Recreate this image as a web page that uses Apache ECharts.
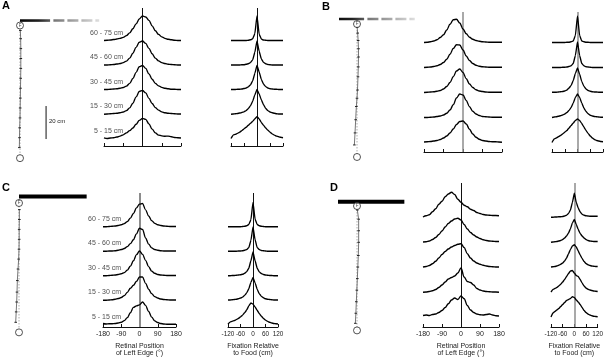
<!DOCTYPE html>
<html>
<head>
<meta charset="utf-8">
<script src="https://cdn.jsdelivr.net/npm/echarts@6/dist/echarts.min.js"></script>
<style>
html, body { margin: 0; padding: 0; background: #fff; }
#chart { width: 606px; height: 359px; }
</style>
</head>
<body>
<div id="chart"></div>
<script>
// Sample positions of the distributions
const RETINAL_X = [-180, -165, -150, -135, -120, -105, -90, -75, -60, -45, -30, -15, 0, 15, 30, 45, 60, 75, 90, 105, 120, 135, 150, 165, 180];
const FIXATION_X = [-120, -110, -100, -90, -80, -70, -60, -50, -40, -30, -20, -10, 0, 10, 20, 30, 40, 50, 60, 70, 80, 90, 100, 110, 120];

// Distance bins, bottom row first
const DISTANCE_BINS = ['5 - 15 cm', '15 - 30 cm', '30 - 45 cm', '45 - 60 cm', '60 - 75 cm'];

// Normalised frequency (1 = row spacing), rows bottom -> top
const A_RETINAL = [
    [0.05, 0.02, 0.04, 0.05, 0.08, 0.12, 0.17, 0.25, 0.34, 0.45, 0.6, 0.76, 0.84, 0.8, 0.62, 0.4, 0.25, 0.16, 0.13, 0.11, 0.12, 0.09, 0.06, 0.05, 0.04],
    [0.01, 0.02, 0.03, 0.04, 0.05, 0.07, 0.1, 0.16, 0.27, 0.46, 0.72, 0.94, 0.98, 0.88, 0.66, 0.45, 0.28, 0.18, 0.11, 0.07, 0.05, 0.04, 0.03, 0.02, 0.02],
    [0.02, 0.02, 0.03, 0.04, 0.05, 0.07, 0.1, 0.16, 0.27, 0.47, 0.72, 0.95, 1.0, 0.88, 0.66, 0.44, 0.27, 0.17, 0.11, 0.07, 0.05, 0.03, 0.03, 0.02, 0.02],
    [0.02, 0.02, 0.03, 0.04, 0.06, 0.08, 0.12, 0.18, 0.3, 0.5, 0.74, 0.95, 1.0, 0.9, 0.7, 0.48, 0.3, 0.19, 0.12, 0.08, 0.05, 0.04, 0.03, 0.02, 0.02],
    [0.02, 0.03, 0.04, 0.06, 0.08, 0.11, 0.15, 0.22, 0.33, 0.5, 0.7, 0.9, 1.02, 0.98, 0.84, 0.62, 0.42, 0.27, 0.17, 0.11, 0.07, 0.05, 0.03, 0.02, 0.02]
];
const A_FIXATION = [
    [0.02, 0.16, 0.19, 0.23, 0.28, 0.34, 0.41, 0.48, 0.56, 0.64, 0.72, 0.82, 0.91, 0.82, 0.68, 0.56, 0.45, 0.36, 0.28, 0.21, 0.16, 0.12, 0.09, 0.07, 0.05],
    [0.01, 0.02, 0.03, 0.04, 0.06, 0.08, 0.11, 0.16, 0.24, 0.36, 0.54, 0.8, 1.02, 0.84, 0.6, 0.4, 0.25, 0.16, 0.1, 0.07, 0.05, 0.03, 0.02, 0.02, 0.02],
    [0.02, 0.02, 0.02, 0.03, 0.03, 0.04, 0.06, 0.08, 0.13, 0.21, 0.37, 0.68, 1.0, 0.74, 0.43, 0.24, 0.14, 0.08, 0.05, 0.04, 0.03, 0.03, 0.02, 0.02, 0.02],
    [0.02, 0.02, 0.02, 0.02, 0.02, 0.03, 0.03, 0.05, 0.07, 0.12, 0.23, 0.54, 1.0, 0.58, 0.27, 0.13, 0.07, 0.04, 0.03, 0.02, 0.02, 0.02, 0.02, 0.02, 0.02],
    [0.02, 0.02, 0.02, 0.02, 0.02, 0.02, 0.02, 0.02, 0.03, 0.05, 0.09, 0.3, 1.02, 0.28, 0.08, 0.04, 0.03, 0.02, 0.02, 0.02, 0.02, 0.02, 0.02, 0.02, 0.02]
];
const B_RETINAL = [
    [0.04, 0.05, 0.06, 0.08, 0.1, 0.14, 0.2, 0.28, 0.4, 0.56, 0.74, 0.86, 0.88, 0.76, 0.55, 0.36, 0.23, 0.15, 0.1, 0.08, 0.06, 0.05, 0.05, 0.04, 0.03],
    [0.02, 0.02, 0.03, 0.04, 0.06, 0.08, 0.12, 0.19, 0.32, 0.53, 0.8, 0.96, 0.92, 0.7, 0.45, 0.27, 0.16, 0.1, 0.06, 0.05, 0.04, 0.03, 0.03, 0.03, 0.03],
    [0.02, 0.03, 0.04, 0.05, 0.07, 0.1, 0.16, 0.26, 0.42, 0.65, 0.88, 0.96, 0.82, 0.57, 0.36, 0.22, 0.13, 0.08, 0.06, 0.04, 0.03, 0.03, 0.03, 0.03, 0.03],
    [0.02, 0.03, 0.04, 0.06, 0.09, 0.14, 0.22, 0.35, 0.55, 0.78, 0.93, 0.92, 0.72, 0.48, 0.3, 0.18, 0.11, 0.07, 0.05, 0.04, 0.03, 0.03, 0.03, 0.03, 0.03],
    [0.02, 0.03, 0.05, 0.08, 0.13, 0.22, 0.33, 0.52, 0.75, 0.93, 0.95, 0.8, 0.56, 0.37, 0.23, 0.15, 0.1, 0.07, 0.05, 0.04, 0.03, 0.03, 0.03, 0.03, 0.03]
];
const B_FIXATION = [
    [0.02, 0.16, 0.2, 0.25, 0.3, 0.36, 0.43, 0.5, 0.6, 0.7, 0.8, 0.9, 0.96, 0.9, 0.78, 0.64, 0.5, 0.38, 0.28, 0.2, 0.14, 0.1, 0.08, 0.06, 0.05],
    [0.02, 0.04, 0.05, 0.07, 0.09, 0.12, 0.16, 0.22, 0.3, 0.42, 0.6, 0.82, 0.96, 0.82, 0.6, 0.4, 0.26, 0.17, 0.11, 0.08, 0.06, 0.05, 0.04, 0.03, 0.03],
    [0.03, 0.03, 0.03, 0.04, 0.05, 0.06, 0.08, 0.12, 0.2, 0.3, 0.5, 0.78, 1.0, 0.75, 0.46, 0.27, 0.16, 0.1, 0.07, 0.05, 0.04, 0.04, 0.03, 0.03, 0.03],
    [0.02, 0.02, 0.02, 0.02, 0.02, 0.03, 0.03, 0.04, 0.06, 0.09, 0.18, 0.5, 1.04, 0.5, 0.18, 0.09, 0.05, 0.04, 0.03, 0.02, 0.02, 0.02, 0.02, 0.02, 0.02],
    [0.02, 0.02, 0.02, 0.02, 0.02, 0.02, 0.02, 0.03, 0.03, 0.05, 0.08, 0.3, 1.08, 0.3, 0.08, 0.05, 0.03, 0.03, 0.02, 0.02, 0.02, 0.02, 0.02, 0.02, 0.02]
];
const C_RETINAL = [
    [0.06, 0.04, 0.05, 0.05, 0.06, 0.08, 0.11, 0.18, 0.3, 0.5, 0.72, 0.78, 0.82, 0.94, 0.8, 0.55, 0.32, 0.17, 0.1, 0.06, 0.04, 0.03, 0.03, 0.03, 0.03],
    [0.01, 0.01, 0.02, 0.03, 0.05, 0.08, 0.12, 0.2, 0.33, 0.5, 0.62, 0.78, 0.96, 0.96, 0.7, 0.46, 0.28, 0.16, 0.1, 0.06, 0.04, 0.03, 0.02, 0.02, 0.02],
    [0.01, 0.01, 0.02, 0.03, 0.04, 0.06, 0.09, 0.14, 0.24, 0.4, 0.62, 0.87, 1.02, 0.88, 0.64, 0.38, 0.2, 0.11, 0.06, 0.04, 0.03, 0.02, 0.02, 0.02, 0.02],
    [0.01, 0.01, 0.02, 0.02, 0.03, 0.05, 0.08, 0.12, 0.2, 0.32, 0.48, 0.72, 0.95, 0.9, 0.55, 0.3, 0.15, 0.08, 0.05, 0.03, 0.02, 0.02, 0.02, 0.02, 0.02],
    [0.01, 0.01, 0.02, 0.03, 0.04, 0.06, 0.09, 0.14, 0.22, 0.36, 0.55, 0.78, 0.93, 0.96, 0.7, 0.45, 0.26, 0.15, 0.09, 0.06, 0.04, 0.03, 0.02, 0.02, 0.02]
];
const C_FIXATION = [
    [0.03, 0.12, 0.15, 0.18, 0.22, 0.27, 0.33, 0.4, 0.5, 0.62, 0.78, 0.9, 0.85, 0.74, 0.6, 0.47, 0.36, 0.27, 0.2, 0.15, 0.11, 0.08, 0.06, 0.05, 0.04],
    [0.02, 0.02, 0.03, 0.04, 0.05, 0.07, 0.1, 0.14, 0.21, 0.31, 0.48, 0.74, 0.94, 0.72, 0.46, 0.28, 0.17, 0.11, 0.07, 0.05, 0.04, 0.03, 0.02, 0.02, 0.02],
    [0.01, 0.01, 0.02, 0.02, 0.03, 0.04, 0.05, 0.07, 0.11, 0.18, 0.32, 0.62, 0.98, 0.62, 0.32, 0.17, 0.1, 0.06, 0.04, 0.03, 0.02, 0.02, 0.01, 0.01, 0.01],
    [0.01, 0.01, 0.01, 0.01, 0.01, 0.02, 0.02, 0.03, 0.05, 0.08, 0.16, 0.45, 1.0, 0.48, 0.16, 0.08, 0.04, 0.03, 0.02, 0.01, 0.01, 0.01, 0.01, 0.01, 0.01],
    [0.01, 0.01, 0.01, 0.01, 0.01, 0.01, 0.01, 0.02, 0.03, 0.05, 0.1, 0.3, 1.0, 0.32, 0.1, 0.05, 0.03, 0.02, 0.01, 0.01, 0.01, 0.01, 0.01, 0.01, 0.01]
];
const D_RETINAL = [
    [0.08, 0.1, 0.08, 0.12, 0.14, 0.2, 0.28, 0.4, 0.55, 0.7, 0.78, 0.72, 0.86, 0.75, 0.48, 0.3, 0.2, 0.14, 0.11, 0.1, 0.12, 0.14, 0.1, 0.07, 0.06],
    [0.01, 0.02, 0.04, 0.07, 0.12, 0.2, 0.3, 0.42, 0.54, 0.6, 0.66, 0.78, 0.98, 0.62, 0.44, 0.4, 0.3, 0.16, 0.1, 0.06, 0.04, 0.03, 0.02, 0.02, 0.01],
    [0.02, 0.04, 0.08, 0.15, 0.25, 0.38, 0.52, 0.64, 0.74, 0.82, 0.88, 0.93, 0.95, 0.8, 0.55, 0.38, 0.26, 0.18, 0.13, 0.09, 0.06, 0.04, 0.03, 0.02, 0.02],
    [0.02, 0.03, 0.06, 0.12, 0.2, 0.32, 0.46, 0.62, 0.76, 0.86, 0.94, 0.97, 0.9, 0.72, 0.54, 0.4, 0.3, 0.22, 0.16, 0.11, 0.08, 0.06, 0.05, 0.04, 0.04],
    [0.02, 0.07, 0.11, 0.23, 0.35, 0.53, 0.65, 0.83, 0.94, 1.01, 0.92, 0.73, 0.61, 0.49, 0.43, 0.33, 0.28, 0.2, 0.16, 0.12, 0.1, 0.09, 0.08, 0.08, 0.07]
];
const D_FIXATION = [
    [0.02, 0.18, 0.24, 0.3, 0.36, 0.44, 0.52, 0.6, 0.68, 0.72, 0.76, 0.83, 0.8, 0.7, 0.62, 0.52, 0.4, 0.28, 0.2, 0.14, 0.1, 0.07, 0.05, 0.04, 0.03],
    [0.02, 0.12, 0.16, 0.2, 0.26, 0.33, 0.42, 0.52, 0.64, 0.76, 0.86, 0.88, 0.78, 0.68, 0.64, 0.52, 0.38, 0.26, 0.18, 0.13, 0.1, 0.08, 0.06, 0.05, 0.04],
    [0.02, 0.03, 0.04, 0.06, 0.09, 0.13, 0.18, 0.26, 0.38, 0.55, 0.72, 0.86, 0.91, 0.82, 0.66, 0.5, 0.36, 0.24, 0.16, 0.11, 0.08, 0.06, 0.05, 0.04, 0.04],
    [0.01, 0.02, 0.03, 0.04, 0.06, 0.08, 0.12, 0.18, 0.26, 0.38, 0.55, 0.78, 0.92, 0.72, 0.52, 0.36, 0.26, 0.18, 0.12, 0.08, 0.06, 0.05, 0.04, 0.04, 0.04],
    [0.01, 0.01, 0.02, 0.02, 0.03, 0.03, 0.04, 0.06, 0.09, 0.16, 0.3, 0.6, 0.97, 0.6, 0.38, 0.22, 0.13, 0.09, 0.07, 0.06, 0.05, 0.05, 0.05, 0.05, 0.05]
];

// Walking paths (cm, relative to the food "F"; y grows toward the start)
const A_PATH = [[-0.4, 74], [-0.3, 68], [-0.2, 62], [0, 56], [0.1, 50], [0.2, 44], [0.3, 38], [0.4, 32], [0.5, 26], [0.5, 20], [0.5, 14], [0.4, 8], [0.2, 3]];
const B_PATH = [[-1.6, 73.3], [-1.2, 66], [-0.8, 58], [-0.4, 50], [0, 45], [0.3, 40], [0.6, 32], [0.8, 26], [0.9, 20], [0.9, 15], [0.7, 10], [0.4, 5.5], [0.1, 2]];
const C_PATH = [[-2, 72.3], [-1.7, 66], [-1.4, 60], [-1.2, 54], [-1, 47], [-0.6, 40], [-0.2, 34], [0, 28], [0.1, 22], [0.1, 16], [0.2, 10], [0.2, 4]];
const D_PATH = [[-1, 71.1], [-0.7, 65], [-0.4, 58], [-0.1, 51], [0.2, 44], [0.5, 37], [0.8, 30], [1.0, 22], [1.0, 15], [1.0, 8], [0.2, 2.4]];
const START_Y = { A: 80.4, B: 80.6, C: 78.4, D: 75.4 };
const EDGE = { A: [0, 48, -3], B: [-14.5, 35, -3], C: [0, 41, -4], D: [-12.3, 28.7, -2.6] }; // [from, to, y] cm

const FONT = '"Liberation Sans", Arial, Helvetica, sans-serif';
const INK = '#111';
const GREY_LINE = '#8c8c8c';

// Profile charts layout
const PROFILES = [
    { data: A_RETINAL, xs: RETINAL_X, box: { left: 104, top: 8, width: 77, height: 138 }, y: [-0.286, 5.347], zero: [INK, 1], labels: true, title: null, kind: 'r' },
    { data: A_FIXATION, xs: FIXATION_X, box: { left: 231, top: 8, width: 52, height: 138 }, y: [-0.286, 5.347], zero: [INK, 1], labels: false, title: null, kind: 'f' },
    { data: B_RETINAL, xs: RETINAL_X, box: { left: 424, top: 12, width: 78, height: 140 }, y: [-0.36, 5.24], zero: [GREY_LINE, 1.5], labels: false, title: null, kind: 'r' },
    { data: B_FIXATION, xs: FIXATION_X, box: { left: 552, top: 12, width: 51, height: 140 }, y: [-0.36, 5.24], zero: [GREY_LINE, 1.5], labels: false, title: null, kind: 'f' },
    { data: C_RETINAL, xs: RETINAL_X, box: { left: 103, top: 193, width: 73, height: 134 }, y: [-0.082, 5.387], zero: [GREY_LINE, 2], labels: true, title: 'Retinal Position\nof Left Edge (°)', kind: 'r' },
    { data: C_FIXATION, xs: FIXATION_X, box: { left: 228, top: 193, width: 50, height: 134 }, y: [-0.082, 5.387], zero: [INK, 1], labels: false, title: 'Fixation Relative\nto Food (cm)', kind: 'f' },
    { data: D_RETINAL, xs: RETINAL_X, box: { left: 423, top: 183, width: 76, height: 144 }, y: [-0.38, 5.38], zero: [INK, 1], labels: false, title: 'Retinal Position\nof Left Edge (°)', kind: 'r' },
    { data: D_FIXATION, xs: FIXATION_X, box: { left: 551, top: 183, width: 50, height: 144 }, y: [-0.38, 5.38], zero: [GREY_LINE, 1.5], labels: false, title: 'Fixation Relative\nto Food (cm)', kind: 'f' }
];

// Path diagrams: grid placed so that F sits at its pixel position, 1.65 px per cm
const DIAGRAMS = [
    { key: 'A', path: A_PATH, F: [20, 25.5], fade: true },
    { key: 'B', path: B_PATH, F: [357, 24], fade: true },
    { key: 'C', path: C_PATH, F: [19, 203], fade: false },
    { key: 'D', path: D_PATH, F: [357, 206], fade: false }
];
const PX_PER_CM = 1.65;

const chart = echarts.init(document.getElementById('chart'), null, { renderer: 'canvas' });

const grids = [];
const xAxes = [];
const yAxes = [];
const series = [];

PROFILES.forEach((p, g) => {
    grids.push(Object.assign({ containLabel: false }, p.box));
    const isR = p.kind === 'r';
    const showLabels = !!p.title;
    xAxes.push({
        gridIndex: g,
        type: 'value',
        min: isR ? -180 : -120,
        max: isR ? 180 : 120,
        interval: isR ? 90 : 60,
        axisLine: { show: true, onZero: false, lineStyle: { color: INK, width: 1 } },
        axisTick: { show: true, inside: true, length: 3, lineStyle: { color: INK, width: 1 } },
        axisLabel: {
            show: showLabels, color: '#222', fontSize: isR ? 7 : 6.4, fontFamily: FONT, margin: 4,
            showMinLabel: true, showMaxLabel: true, hideOverlap: false
        },
        splitLine: { show: false },
        name: p.title || '',
        nameLocation: 'middle',
        nameGap: 15,
        nameTextStyle: { color: '#222', fontSize: 7, fontFamily: FONT, lineHeight: 7.5 }
    });
    yAxes.push({
        gridIndex: g,
        type: 'value',
        min: p.y[0],
        max: p.y[1],
        show: false,
        splitLine: { show: false }
    });
    p.data.forEach((row, i) => {
        series.push({
            type: 'line',
            xAxisIndex: g,
            yAxisIndex: g,
            data: p.xs.map((x, k) => [x, row[k] + i]),
            showSymbol: false,
            smooth: isR ? 0.35 : 0.12,
            smoothMonotone: 'x',
            lineStyle: { color: '#000', width: 1.35 },
            z: 3,
            markLine: i === 0 ? {
                silent: true,
                symbol: 'none',
                label: { show: false },
                lineStyle: { color: p.zero[0], width: p.zero[1], type: 'solid' },
                data: [{ xAxis: 0 }],
                z: 2
            } : undefined
        });
    });
    if (p.labels) {
        series.push({
            type: 'scatter',
            xAxisIndex: g,
            yAxisIndex: g,
            symbolSize: 0,
            data: DISTANCE_BINS.map((t, i) => ({ value: [-86, i + 0.34], name: t })),
            label: {
                show: true,
                position: 'left',
                distance: 1,
                formatter: d => d.name,
                color: '#222',
                fontSize: 7,
                fontFamily: FONT
            },
            z: 4
        });
    }
});

DIAGRAMS.forEach((d, j) => {
    const g = PROFILES.length + j;
    grids.push({
        left: d.F[0] - 10 * PX_PER_CM,
        top: d.F[1] - 8 * PX_PER_CM,
        width: 60 * PX_PER_CM,
        height: 96 * PX_PER_CM,
        containLabel: false
    });
    xAxes.push({ gridIndex: g, type: 'value', min: -10, max: 50, show: false, splitLine: { show: false } });
    yAxes.push({ gridIndex: g, type: 'value', min: -8, max: 88, inverse: true, show: false, splitLine: { show: false } });
    const base = { type: 'line', xAxisIndex: g, yAxisIndex: g, showSymbol: false, clip: false, silent: true };
    const [e0, e1, ey] = EDGE[d.key];
    if (d.fade) {
        const split = e0 + (e1 - e0) * 0.38;
        series.push(Object.assign({}, base, {
            data: [[e0, ey], [split, ey]],
            lineStyle: { width: 2.6, cap: 'butt', color: new echarts.graphic.LinearGradient(0, 0, 1, 0, [{ offset: 0, color: '#000' }, { offset: 0.6, color: '#222' }, { offset: 1, color: '#666' }]) }
        }));
        series.push(Object.assign({}, base, {
            data: [[split + 2, ey], [e1, ey]],
            lineStyle: { width: 2.6, cap: 'butt', type: [11, 3], color: new echarts.graphic.LinearGradient(0, 0, 1, 0, [{ offset: 0, color: '#6e6e6e' }, { offset: 1, color: '#e4e4e4' }]) }
        }));
    } else {
        series.push(Object.assign({}, base, {
            data: [[e0, ey], [e1, ey]],
            lineStyle: { width: 4, color: '#000', cap: 'butt' }
        }));
    }
    // straight line from start to food
    series.push(Object.assign({}, base, {
        data: [[0, 0], [0, START_Y[d.key]]],
        lineStyle: { width: 0.8, type: [1.5, 1.5], color: '#9a9a9a' }
    }));
    // walking trajectory with time ticks
    series.push(Object.assign({}, base, {
        data: d.path,
        showSymbol: true,
        symbol: 'rect',
        symbolSize: [2.6, 1],
        itemStyle: { color: '#222' },
        lineStyle: { width: 0.9, color: '#666' },
        z: 3
    }));
    // food and start circles
    series.push({
        type: 'scatter',
        xAxisIndex: g,
        yAxisIndex: g,
        clip: false,
        silent: true,
        symbolSize: 7,
        itemStyle: { color: '#fff', borderColor: '#111', borderWidth: 0.9 },
        data: [
            { value: [0, 0], label: { show: true, formatter: 'F', position: 'inside', fontSize: 4.5, color: '#111', fontFamily: FONT } },
            { value: [0, START_Y[d.key]] }
        ],
        z: 5
    });
    if (d.key === 'A') {
        // 20 cm scale bar
        series.push(Object.assign({}, base, {
            data: [[15.8, 48.8], [15.8, 68.8]],
            lineStyle: { width: 1, color: INK }
        }));
    }
});

const panelLetter = (t, x, y) => ({
    type: 'text', left: x, top: y,
    style: { text: t, fill: '#000', font: 'bold 11px ' + FONT }
});

chart.setOption({
    animation: false,
    backgroundColor: '#fff',
    grid: grids,
    xAxis: xAxes,
    yAxis: yAxes,
    series: series,
    graphic: [
        panelLetter('A', 2, 0),
        panelLetter('B', 322, 1),
        panelLetter('C', 2, 182),
        panelLetter('D', 330, 182),
        { type: 'text', left: 49, top: 118, style: { text: '20 cm', fill: '#222', font: '6px ' + FONT } }
    ]
});
</script>
</body>
</html>
